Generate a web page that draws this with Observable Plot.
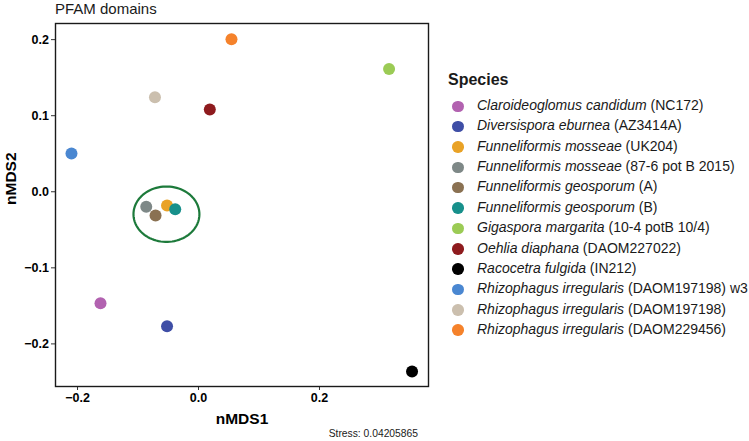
<!DOCTYPE html>
<html>
<head>
<meta charset="utf-8">
<script src="https://cdn.jsdelivr.net/npm/d3@7"></script>
<script src="https://cdn.jsdelivr.net/npm/@observablehq/plot@0.6"></script>
<style>
  body { margin: 0; background: #fff; font-family: "Liberation Sans", Arial, Helvetica, sans-serif; }
  #wrap { position: relative; width: 749px; height: 441px; overflow: hidden; background: #fff; }
  #plot { position: absolute; left: 0; top: 0; }
  #title { position: absolute; left: 55px; top: 1px; font-size: 15px; line-height: 15px; color: #1a1a1a; }
  #stress { position: absolute; right: 331px; top: 428px; font-size: 10.3px; color: #1a1a1a; white-space: nowrap; }
  #legend { position: absolute; left: 448px; top: 71px; color: #1a1a1a; }
  #legend .lt { font-size: 16px; font-weight: bold; margin-bottom: 4px; height: 22px; }
  #legend .row { position: relative; height: 20.36px; font-size: 14px; white-space: nowrap; }
  #legend .sw { position: absolute; left: 4px; top: 3.5px; width: 11.5px; height: 11.5px; border-radius: 50%; }
  #legend .lb { position: absolute; left: 29px; top: 0px; }
  #plot svg text { fill: #000; }
  #plot g[aria-label="x-axis tick label"] text, #plot g[aria-label="y-axis tick label"] text { font-weight: bold; }
</style>
</head>
<body>
<div id="wrap">
  <div id="plot"></div>
  <div id="title">PFAM domains</div>
  <div id="legend"></div>
  <div id="stress">Stress: 0.04205865</div>
</div>
<script>
// ---- data ----
const genus = [
  "Claroideoglomus candidum", "Diversispora eburnea", "Funneliformis mosseae", "Funneliformis mosseae",
  "Funneliformis geosporum", "Funneliformis geosporum", "Gigaspora margarita", "Oehlia diaphana",
  "Racocetra fulgida", "Rhizophagus irregularis", "Rhizophagus irregularis", "Rhizophagus irregularis"
];
const strain = [
  "(NC172)", "(AZ3414A)", "(UK204)", "(87-6 pot B 2015)",
  "(A)", "(B)", "(10-4 potB 10/4)", "(DAOM227022)",
  "(IN212)", "(DAOM197198) w3", "(DAOM197198)", "(DAOM229456)"
];
const nmds1 = [-0.162, -0.052, -0.052, -0.0864, -0.071, -0.0385, 0.315, 0.0187, 0.353, -0.210, -0.072, 0.0545];
const nmds2 = [-0.1466, -0.1768, -0.0181, -0.0198, -0.0313, -0.0230, 0.1615, 0.108, -0.2363, 0.0502, 0.1242, 0.2004];
const colors = ["#b262b0", "#3f4ea6", "#e9a226", "#7e8887", "#8a7152", "#17908b", "#9bcb55", "#8e1b1e", "#000000", "#4a87d1", "#cbbfae", "#f5822b"];
const xTicks = [-0.2, 0.0, 0.2];
const yTicks = [-0.2, -0.1, 0.0, 0.1, 0.2];
const xDomain = [-0.2364, 0.3802];
const yDomain = [-0.2560, 0.2212];
const ellipseCenter = [-0.053, -0.0295];
const ellipseRadii = [0.0545, 0.0364];

// ---- build ----
const rows = genus.map((g, i) => ({ genus: g, strain: strain[i], x: nmds1[i], y: nmds2[i], color: colors[i] }));
const angles = d3.range(0, 361, 4);
const ellipse = angles.map(a => ({
  x: ellipseCenter[0] + ellipseRadii[0] * Math.cos(a * Math.PI / 180),
  y: ellipseCenter[1] + ellipseRadii[1] * Math.sin(a * Math.PI / 180)
}));
const fmt = d3.format(".1f");

const chart = Plot.plot({
  width: 440,
  height: 441,
  marginLeft: 55,
  marginRight: 12,
  marginTop: 23,
  marginBottom: 55,
  style: { fontFamily: "'Liberation Sans', Arial, Helvetica, sans-serif", fontSize: "12.5px", color: "#000", background: "#fff" },
  x: { domain: xDomain, label: null },
  y: { domain: yDomain, label: null },
  color: { type: "identity" },
  marks: [
    Plot.axisX({ ticks: xTicks, tickFormat: fmt, tickSize: 4, tickPadding: 3, fontSize: 12.5, fontWeight: "bold", stroke: "#333", label: null }),
    Plot.axisY({ ticks: yTicks, tickFormat: fmt, tickSize: 4, tickPadding: 2.5, fontSize: 12.5, fontWeight: "bold", stroke: "#333", label: null }),
    Plot.line(ellipse, { x: "x", y: "y", stroke: "#1d7a3b", strokeWidth: 2.2, curve: "linear" }),
    Plot.dot(rows, { x: "x", y: "y", r: 6, fill: "color", stroke: "none" }),
    Plot.frame({ stroke: "#1a1a1a", strokeWidth: 1.4 }),
    Plot.text(["nMDS1"], { text: d => d, frameAnchor: "bottom", dy: 37, fontSize: 15.5, fontWeight: "bold" }),
    Plot.text(["nMDS2"], { text: d => d, frameAnchor: "left", dx: -44, rotate: -90, fontSize: 15.5, fontWeight: "bold" })
  ]
});
document.getElementById("plot").appendChild(chart);

// legend
const legend = d3.select("#legend");
legend.append("div").attr("class", "lt").text("Species");
rows.forEach(r => {
  const row = legend.append("div").attr("class", "row");
  row.append("div").attr("class", "sw").style("background", r.color);
  const lb = row.append("div").attr("class", "lb");
  lb.append("i").text(r.genus);
  lb.append("span").text(" " + r.strain);
});
</script>
</body>
</html>
